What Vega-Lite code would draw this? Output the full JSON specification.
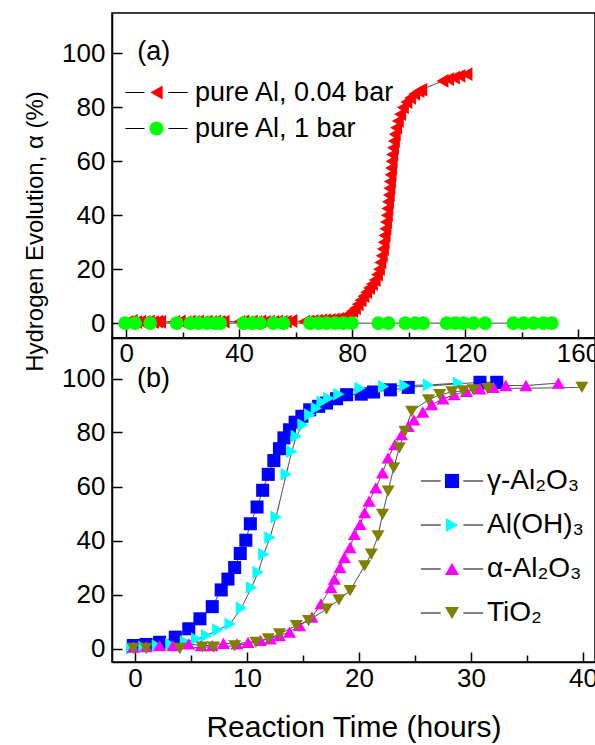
{
  "$schema": "https://vega.github.io/schema/vega-lite/v6.json",
  "padding": {"left": 22, "top": 12, "right": 0, "bottom": 0},
  "config": {
    "view": {"stroke": "black", "strokeWidth": 1.5},
    "font": "Liberation Sans",
    "axis": {"grid": false, "domainColor": "black", "domainWidth": 1.5, "tickColor": "black", "tickWidth": 1.5, "labelColor": "black", "labelFont": "Liberation Sans", "labelFontSize": 26, "titleColor": "black", "titleFont": "Liberation Sans", "titleFontWeight": "normal", "labelFlush": false, "labelOverlap": false},
    "legend": {"labelColor": "black", "labelFont": "Liberation Sans", "labelLimit": 0}
  },
  "resolve": {
    "scale": {"color": "independent", "shape": "independent", "strokeDash": "independent"},
    "legend": {"color": "independent", "shape": "independent", "strokeDash": "independent"}
  },
  "datasets": {
    "top": [
      {"series": "pure Al, 0.04 bar", "t": 0.5, "h": 0.5}, {"series": "pure Al, 0.04 bar", "t": 2, "h": 0.8}, {"series": "pure Al, 0.04 bar", "t": 3.5, "h": 0.4}, {"series": "pure Al, 0.04 bar", "t": 5, "h": 0.6}, {"series": "pure Al, 0.04 bar", "t": 6.5, "h": 0.5}, {"series": "pure Al, 0.04 bar", "t": 8, "h": 0.7}, {"series": "pure Al, 0.04 bar", "t": 9.5, "h": 0.4}, {"series": "pure Al, 0.04 bar", "t": 11, "h": 0.6}, {"series": "pure Al, 0.04 bar", "t": 12, "h": 0.5},
      {"series": "pure Al, 0.04 bar", "t": 17, "h": 0.5}, {"series": "pure Al, 0.04 bar", "t": 19, "h": 0.7}, {"series": "pure Al, 0.04 bar", "t": 21, "h": 0.4}, {"series": "pure Al, 0.04 bar", "t": 22.5, "h": 0.6}, {"series": "pure Al, 0.04 bar", "t": 24, "h": 0.5}, {"series": "pure Al, 0.04 bar", "t": 25.5, "h": 0.7}, {"series": "pure Al, 0.04 bar", "t": 27, "h": 0.4}, {"series": "pure Al, 0.04 bar", "t": 28.5, "h": 0.6}, {"series": "pure Al, 0.04 bar", "t": 30, "h": 0.5}, {"series": "pure Al, 0.04 bar", "t": 31.5, "h": 0.7}, {"series": "pure Al, 0.04 bar", "t": 33, "h": 0.5}, {"series": "pure Al, 0.04 bar", "t": 34.5, "h": 0.6},
      {"series": "pure Al, 0.04 bar", "t": 40, "h": 0.5}, {"series": "pure Al, 0.04 bar", "t": 41.5, "h": 0.7}, {"series": "pure Al, 0.04 bar", "t": 43, "h": 0.4}, {"series": "pure Al, 0.04 bar", "t": 44.5, "h": 0.6}, {"series": "pure Al, 0.04 bar", "t": 46, "h": 0.5}, {"series": "pure Al, 0.04 bar", "t": 47.5, "h": 0.7}, {"series": "pure Al, 0.04 bar", "t": 49, "h": 0.5}, {"series": "pure Al, 0.04 bar", "t": 50.5, "h": 0.6}, {"series": "pure Al, 0.04 bar", "t": 52, "h": 0.5}, {"series": "pure Al, 0.04 bar", "t": 53.5, "h": 0.7}, {"series": "pure Al, 0.04 bar", "t": 55, "h": 0.5}, {"series": "pure Al, 0.04 bar", "t": 56.5, "h": 0.6}, {"series": "pure Al, 0.04 bar", "t": 58.5, "h": 0.8},
      {"series": "pure Al, 0.04 bar", "t": 63, "h": 0.6}, {"series": "pure Al, 0.04 bar", "t": 64.5, "h": 0.7}, {"series": "pure Al, 0.04 bar", "t": 66, "h": 0.8}, {"series": "pure Al, 0.04 bar", "t": 67.5, "h": 0.9}, {"series": "pure Al, 0.04 bar", "t": 69, "h": 1}, {"series": "pure Al, 0.04 bar", "t": 70.5, "h": 1.1}, {"series": "pure Al, 0.04 bar", "t": 72, "h": 1.2}, {"series": "pure Al, 0.04 bar", "t": 73.5, "h": 1.4}, {"series": "pure Al, 0.04 bar", "t": 75, "h": 1.6}, {"series": "pure Al, 0.04 bar", "t": 76.5, "h": 1.9}, {"series": "pure Al, 0.04 bar", "t": 78, "h": 2.4},
      {"series": "pure Al, 0.04 bar", "t": 79, "h": 3.5}, {"series": "pure Al, 0.04 bar", "t": 80, "h": 4.5}, {"series": "pure Al, 0.04 bar", "t": 81, "h": 5.5}, {"series": "pure Al, 0.04 bar", "t": 82, "h": 7}, {"series": "pure Al, 0.04 bar", "t": 83, "h": 8.5}, {"series": "pure Al, 0.04 bar", "t": 84, "h": 10}, {"series": "pure Al, 0.04 bar", "t": 85, "h": 11.5}, {"series": "pure Al, 0.04 bar", "t": 86, "h": 13}, {"series": "pure Al, 0.04 bar", "t": 87, "h": 14.5}, {"series": "pure Al, 0.04 bar", "t": 88, "h": 16}, {"series": "pure Al, 0.04 bar", "t": 88.8, "h": 18}, {"series": "pure Al, 0.04 bar", "t": 89.5, "h": 20}, {"series": "pure Al, 0.04 bar", "t": 90, "h": 22.5}, {"series": "pure Al, 0.04 bar", "t": 90.5, "h": 25}, {"series": "pure Al, 0.04 bar", "t": 90.9, "h": 27.5}, {"series": "pure Al, 0.04 bar", "t": 91.2, "h": 30}, {"series": "pure Al, 0.04 bar", "t": 91.5, "h": 32.5}, {"series": "pure Al, 0.04 bar", "t": 91.8, "h": 35}, {"series": "pure Al, 0.04 bar", "t": 92, "h": 37.5}, {"series": "pure Al, 0.04 bar", "t": 92.3, "h": 40}, {"series": "pure Al, 0.04 bar", "t": 92.5, "h": 42.5}, {"series": "pure Al, 0.04 bar", "t": 92.7, "h": 45}, {"series": "pure Al, 0.04 bar", "t": 93, "h": 47.5}, {"series": "pure Al, 0.04 bar", "t": 93.2, "h": 50}, {"series": "pure Al, 0.04 bar", "t": 93.4, "h": 52.5}, {"series": "pure Al, 0.04 bar", "t": 93.6, "h": 55}, {"series": "pure Al, 0.04 bar", "t": 93.8, "h": 57.5}, {"series": "pure Al, 0.04 bar", "t": 94, "h": 60}, {"series": "pure Al, 0.04 bar", "t": 94.2, "h": 62.5}, {"series": "pure Al, 0.04 bar", "t": 94.5, "h": 65}, {"series": "pure Al, 0.04 bar", "t": 94.8, "h": 67.5}, {"series": "pure Al, 0.04 bar", "t": 95.1, "h": 70}, {"series": "pure Al, 0.04 bar", "t": 95.6, "h": 72.5}, {"series": "pure Al, 0.04 bar", "t": 96.2, "h": 75}, {"series": "pure Al, 0.04 bar", "t": 97, "h": 77.5}, {"series": "pure Al, 0.04 bar", "t": 98, "h": 80}, {"series": "pure Al, 0.04 bar", "t": 99.2, "h": 82}, {"series": "pure Al, 0.04 bar", "t": 100.5, "h": 83.5}, {"series": "pure Al, 0.04 bar", "t": 102, "h": 85}, {"series": "pure Al, 0.04 bar", "t": 103.5, "h": 86}, {"series": "pure Al, 0.04 bar", "t": 104.5, "h": 86.5},
      {"series": "pure Al, 0.04 bar", "t": 112, "h": 89.8}, {"series": "pure Al, 0.04 bar", "t": 114, "h": 90.5}, {"series": "pure Al, 0.04 bar", "t": 116, "h": 91}, {"series": "pure Al, 0.04 bar", "t": 118, "h": 91.7}, {"series": "pure Al, 0.04 bar", "t": 120.5, "h": 92.3},
      {"series": "pure Al, 1 bar", "t": -0.3, "h": 0}, {"series": "pure Al, 1 bar", "t": 3.2, "h": 0}, {"series": "pure Al, 1 bar", "t": 8.5, "h": 0}, {"series": "pure Al, 1 bar", "t": 17.9, "h": 0}, {"series": "pure Al, 1 bar", "t": 22.7, "h": 0}, {"series": "pure Al, 1 bar", "t": 25.6, "h": 0}, {"series": "pure Al, 1 bar", "t": 28.6, "h": 0}, {"series": "pure Al, 1 bar", "t": 31.5, "h": 0}, {"series": "pure Al, 1 bar", "t": 33.3, "h": 0}, {"series": "pure Al, 1 bar", "t": 41.5, "h": 0}, {"series": "pure Al, 1 bar", "t": 44.5, "h": 0}, {"series": "pure Al, 1 bar", "t": 47.4, "h": 0}, {"series": "pure Al, 1 bar", "t": 52.1, "h": 0}, {"series": "pure Al, 1 bar", "t": 55.7, "h": 0}, {"series": "pure Al, 1 bar", "t": 65.1, "h": 0}, {"series": "pure Al, 1 bar", "t": 68.1, "h": 0}, {"series": "pure Al, 1 bar", "t": 71, "h": 0}, {"series": "pure Al, 1 bar", "t": 74, "h": 0}, {"series": "pure Al, 1 bar", "t": 76.9, "h": 0}, {"series": "pure Al, 1 bar", "t": 79.9, "h": 0}, {"series": "pure Al, 1 bar", "t": 89.3, "h": 0}, {"series": "pure Al, 1 bar", "t": 92.9, "h": 0}, {"series": "pure Al, 1 bar", "t": 98.8, "h": 0}, {"series": "pure Al, 1 bar", "t": 102.3, "h": 0}, {"series": "pure Al, 1 bar", "t": 105.2, "h": 0}, {"series": "pure Al, 1 bar", "t": 113.5, "h": 0}, {"series": "pure Al, 1 bar", "t": 116.5, "h": 0}, {"series": "pure Al, 1 bar", "t": 119.4, "h": 0}, {"series": "pure Al, 1 bar", "t": 122.9, "h": 0}, {"series": "pure Al, 1 bar", "t": 127.1, "h": 0}, {"series": "pure Al, 1 bar", "t": 137.1, "h": 0}, {"series": "pure Al, 1 bar", "t": 140.7, "h": 0}, {"series": "pure Al, 1 bar", "t": 144.2, "h": 0}, {"series": "pure Al, 1 bar", "t": 147.7, "h": 0}, {"series": "pure Al, 1 bar", "t": 150.7, "h": 0}
    ],
    "bottom": [
      {"series": "γ-Al₂O₃", "t": -0.15, "h": 1.1}, {"series": "γ-Al₂O₃", "t": 1.0, "h": 1.5}, {"series": "γ-Al₂O₃", "t": 2.2, "h": 2.3}, {"series": "γ-Al₂O₃", "t": 3.6, "h": 4.2}, {"series": "γ-Al₂O₃", "t": 4.8, "h": 7.3}, {"series": "γ-Al₂O₃", "t": 5.8, "h": 11}, {"series": "γ-Al₂O₃", "t": 6.9, "h": 15.5}, {"series": "γ-Al₂O₃", "t": 7.7, "h": 21.7}, {"series": "γ-Al₂O₃", "t": 8.3, "h": 25.7}, {"series": "γ-Al₂O₃", "t": 8.9, "h": 30}, {"series": "γ-Al₂O₃", "t": 9.4, "h": 35.2}, {"series": "γ-Al₂O₃", "t": 9.9, "h": 40.1}, {"series": "γ-Al₂O₃", "t": 10.3, "h": 46.2}, {"series": "γ-Al₂O₃", "t": 10.9, "h": 52.4}, {"series": "γ-Al₂O₃", "t": 11.4, "h": 58.6}, {"series": "γ-Al₂O₃", "t": 11.9, "h": 64.5}, {"series": "γ-Al₂O₃", "t": 12.4, "h": 69.6}, {"series": "γ-Al₂O₃", "t": 12.9, "h": 74}, {"series": "γ-Al₂O₃", "t": 13.3, "h": 78}, {"series": "γ-Al₂O₃", "t": 13.8, "h": 81}, {"series": "γ-Al₂O₃", "t": 14.3, "h": 83.8}, {"series": "γ-Al₂O₃", "t": 14.9, "h": 86}, {"series": "γ-Al₂O₃", "t": 15.6, "h": 88.4}, {"series": "γ-Al₂O₃", "t": 16.4, "h": 89.7}, {"series": "γ-Al₂O₃", "t": 17.1, "h": 90.9}, {"series": "γ-Al₂O₃", "t": 18.0, "h": 92.5}, {"series": "γ-Al₂O₃", "t": 18.9, "h": 94}, {"series": "γ-Al₂O₃", "t": 20.2, "h": 94.2}, {"series": "γ-Al₂O₃", "t": 21.3, "h": 95}, {"series": "γ-Al₂O₃", "t": 22.8, "h": 95.8}, {"series": "γ-Al₂O₃", "t": 24.4, "h": 96.7}, {"series": "γ-Al₂O₃", "t": 30.8, "h": 98.6}, {"series": "γ-Al₂O₃", "t": 32.3, "h": 98.6},
      {"series": "Al(OH)₃", "t": -0.3, "h": 0}, {"series": "Al(OH)₃", "t": 0.8, "h": 0.5}, {"series": "Al(OH)₃", "t": 2, "h": 1}, {"series": "Al(OH)₃", "t": 3.2, "h": 1.5}, {"series": "Al(OH)₃", "t": 4.5, "h": 2.5}, {"series": "Al(OH)₃", "t": 5.5, "h": 3.6}, {"series": "Al(OH)₃", "t": 6.4, "h": 4.8}, {"series": "Al(OH)₃", "t": 7.4, "h": 6.9}, {"series": "Al(OH)₃", "t": 8.5, "h": 9.1}, {"series": "Al(OH)₃", "t": 9.5, "h": 15}, {"series": "Al(OH)₃", "t": 10.4, "h": 22.6}, {"series": "Al(OH)₃", "t": 11.0, "h": 28.2}, {"series": "Al(OH)₃", "t": 11.5, "h": 34.9}, {"series": "Al(OH)₃", "t": 12.05, "h": 41.1}, {"series": "Al(OH)₃", "t": 12.6, "h": 48.7}, {"series": "Al(OH)₃", "t": 13.5, "h": 64.5}, {"series": "Al(OH)₃", "t": 14.0, "h": 73}, {"series": "Al(OH)₃", "t": 14.4, "h": 78.6}, {"series": "Al(OH)₃", "t": 15.0, "h": 82.9}, {"series": "Al(OH)₃", "t": 15.6, "h": 86.6}, {"series": "Al(OH)₃", "t": 16.2, "h": 89}, {"series": "Al(OH)₃", "t": 16.7, "h": 91.3}, {"series": "Al(OH)₃", "t": 17.3, "h": 92.7}, {"series": "Al(OH)₃", "t": 18.2, "h": 94.2}, {"series": "Al(OH)₃", "t": 20.1, "h": 96.4}, {"series": "Al(OH)₃", "t": 22.2, "h": 97}, {"series": "Al(OH)₃", "t": 24.1, "h": 97.4}, {"series": "Al(OH)₃", "t": 26.2, "h": 97.6}, {"series": "Al(OH)₃", "t": 28.9, "h": 98.3},
      {"series": "α-Al₂O₃", "t": -0.15, "h": 0.5}, {"series": "α-Al₂O₃", "t": 1, "h": 0.7}, {"series": "α-Al₂O₃", "t": 2.2, "h": 1.1}, {"series": "α-Al₂O₃", "t": 3.4, "h": 1.1}, {"series": "α-Al₂O₃", "t": 4.8, "h": 1.7}, {"series": "α-Al₂O₃", "t": 5.9, "h": 1.1}, {"series": "α-Al₂O₃", "t": 6.9, "h": 1.1}, {"series": "α-Al₂O₃", "t": 7.9, "h": 1.9}, {"series": "α-Al₂O₃", "t": 9.1, "h": 1.7}, {"series": "α-Al₂O₃", "t": 10.1, "h": 2.3}, {"series": "α-Al₂O₃", "t": 11.2, "h": 3}, {"series": "α-Al₂O₃", "t": 12.1, "h": 3.6}, {"series": "α-Al₂O₃", "t": 12.9, "h": 4.8}, {"series": "α-Al₂O₃", "t": 13.8, "h": 6.1}, {"series": "α-Al₂O₃", "t": 14.7, "h": 8.5}, {"series": "α-Al₂O₃", "t": 15.8, "h": 11.6}, {"series": "α-Al₂O₃", "t": 16.6, "h": 16.5}, {"series": "α-Al₂O₃", "t": 17.5, "h": 22.6}, {"series": "α-Al₂O₃", "t": 17.8, "h": 25.7}, {"series": "α-Al₂O₃", "t": 18.3, "h": 30}, {"series": "α-Al₂O₃", "t": 18.7, "h": 33.7}, {"series": "α-Al₂O₃", "t": 19.2, "h": 37.4}, {"series": "α-Al₂O₃", "t": 19.6, "h": 42.3}, {"series": "α-Al₂O₃", "t": 20.1, "h": 46}, {"series": "α-Al₂O₃", "t": 20.5, "h": 50.3}, {"series": "α-Al₂O₃", "t": 20.9, "h": 54.6}, {"series": "α-Al₂O₃", "t": 21.5, "h": 59.5}, {"series": "α-Al₂O₃", "t": 22.1, "h": 65.1}, {"series": "α-Al₂O₃", "t": 22.6, "h": 70.6}, {"series": "α-Al₂O₃", "t": 23.2, "h": 75.5}, {"series": "α-Al₂O₃", "t": 23.8, "h": 79.2}, {"series": "α-Al₂O₃", "t": 24.4, "h": 82.3}, {"series": "α-Al₂O₃", "t": 24.9, "h": 84.7}, {"series": "α-Al₂O₃", "t": 25.7, "h": 87.6}, {"series": "α-Al₂O₃", "t": 26.5, "h": 90.3}, {"series": "α-Al₂O₃", "t": 27.5, "h": 92.5}, {"series": "α-Al₂O₃", "t": 28.5, "h": 94}, {"series": "α-Al₂O₃", "t": 29.6, "h": 95.2}, {"series": "α-Al₂O₃", "t": 30.8, "h": 96.2}, {"series": "α-Al₂O₃", "t": 32, "h": 96.7}, {"series": "α-Al₂O₃", "t": 33.1, "h": 97.4}, {"series": "α-Al₂O₃", "t": 34.9, "h": 97.4}, {"series": "α-Al₂O₃", "t": 37.8, "h": 98.3},
      {"series": "TiO₂", "t": -0.15, "h": 0}, {"series": "TiO₂", "t": 1, "h": 0}, {"series": "TiO₂", "t": 4, "h": 0}, {"series": "TiO₂", "t": 6, "h": 0.5}, {"series": "TiO₂", "t": 7, "h": 0.5}, {"series": "TiO₂", "t": 8.9, "h": 1}, {"series": "TiO₂", "t": 10.8, "h": 2.3}, {"series": "TiO₂", "t": 11.9, "h": 3.6}, {"series": "TiO₂", "t": 12.9, "h": 5.4}, {"series": "TiO₂", "t": 14.4, "h": 8.5}, {"series": "TiO₂", "t": 15.5, "h": 10.3}, {"series": "TiO₂", "t": 17.1, "h": 14.6}, {"series": "TiO₂", "t": 18.2, "h": 18}, {"series": "TiO₂", "t": 19.2, "h": 21.4}, {"series": "TiO₂", "t": 20.5, "h": 30.6}, {"series": "TiO₂", "t": 21.1, "h": 34.9}, {"series": "TiO₂", "t": 21.7, "h": 41.7}, {"series": "TiO₂", "t": 22.1, "h": 49.7}, {"series": "TiO₂", "t": 22.6, "h": 58.3}, {"series": "TiO₂", "t": 23.1, "h": 66.9}, {"series": "TiO₂", "t": 23.6, "h": 74.3}, {"series": "TiO₂", "t": 24.1, "h": 80.4}, {"series": "TiO₂", "t": 24.7, "h": 87.8}, {"series": "TiO₂", "t": 26.2, "h": 92.1}, {"series": "TiO₂", "t": 27.2, "h": 94}, {"series": "TiO₂", "t": 28.3, "h": 95}, {"series": "TiO₂", "t": 29.3, "h": 95.4}, {"series": "TiO₂", "t": 30.2, "h": 95.8}, {"series": "TiO₂", "t": 31.5, "h": 96.2}, {"series": "TiO₂", "t": 39.9, "h": 96.7}
    ]
  },
  "spacing": 0,
  "bounds": "flush",
  "vconcat": [
    {
      "width": 483,
      "height": 325,
      "data": {"name": "top"},
      "resolve": {"legend": {"strokeDash": "independent"}},
      "layer": [
        {
          "mark": {"type": "line", "color": "#333333", "strokeWidth": 1},
          "encoding": {
            "x": {"field": "t", "type": "quantitative", "scale": {"domain": [-5, 166], "nice": false, "zero": false},
              "axis": {"title": null, "values": [0, 20, 40, 60, 80, 100, 120, 140, 160], "labelExpr": "datum.value % 40 === 0 ? datum.label : ''", "tickSize": {"condition": {"test": "datum.value % 40 === 0", "value": -9}, "value": -6}, "labelPadding": 11}},
            "y": {"field": "h", "type": "quantitative", "scale": {"domain": [-5.5, 115], "nice": false, "zero": false},
              "axis": {"title": "Hydrogen Evolution, α (%)", "titleFontSize": 24, "titleY": 218, "titlePadding": 14, "values": [0, 10, 20, 30, 40, 50, 60, 70, 80, 90, 100, 110], "labelExpr": "datum.value % 20 === 0 ? datum.label : ''", "tickSize": {"condition": {"test": "datum.value % 20 === 0", "value": -10}, "value": -6}, "labelPadding": 17}},
            "strokeDash": {"field": "series", "type": "nominal", "scale": {"domain": ["pure Al, 0.04 bar", "pure Al, 1 bar"], "range": [[1, 0], [1, 0]]},
              "legend": {"orient": "none", "legendX": 31, "legendY": 66, "title": null, "symbolType": "M-4.4,0H-1.7M1.7,0H4.4", "symbolSize": 200, "symbolStrokeColor": "black", "symbolStrokeWidth": 1.2, "labelFontSize": 27, "labelOffset": 25, "labelOpacity": 0, "rowPadding": 8, "padding": 0}}
          }
        },
        {
          "mark": {"type": "point", "filled": true, "opacity": 1, "size": 190, "strokeWidth": 0},
          "encoding": {
            "x": {"field": "t", "type": "quantitative"},
            "y": {"field": "h", "type": "quantitative"},
            "color": {"field": "series", "type": "nominal", "scale": {"domain": ["pure Al, 0.04 bar", "pure Al, 1 bar"], "range": ["#ff0000", "#00ff00"]},
              "legend": {"orient": "none", "legendX": 31, "legendY": 66, "title": null, "symbolSize": 200, "symbolStrokeWidth": 0, "labelFontSize": 27, "labelOffset": 25, "rowPadding": 8, "padding": 0}},
            "shape": {"field": "series", "type": "nominal", "scale": {"domain": ["pure Al, 0.04 bar", "pure Al, 1 bar"], "range": ["triangle-left", "circle"]}}
          }
        },
        {
          "data": {"values": [{"label": "(a)"}]},
          "mark": {"type": "text", "align": "left", "baseline": "middle", "fontSize": 27, "font": "Liberation Sans", "color": "black"},
          "encoding": {"x": {"datum": 3.9}, "y": {"datum": 100.7}, "text": {"field": "label"}}
        }
      ]
    },
    {
      "width": 483,
      "height": 324,
      "data": {"name": "bottom"},
      "resolve": {"legend": {"strokeDash": "independent"}},
      "layer": [
        {
          "mark": {"type": "line", "color": "#333333", "strokeWidth": 1},
          "encoding": {
            "x": {"field": "t", "type": "quantitative", "scale": {"domain": [-2.05, 41.07], "nice": false, "zero": false},
              "axis": {"title": "Reaction Time (hours)", "titleFontSize": 30, "titlePadding": 18, "values": [0, 5, 10, 15, 20, 25, 30, 35, 40], "labelExpr": "datum.value % 10 === 0 ? datum.label : ''", "tickSize": {"condition": {"test": "datum.value % 10 === 0", "value": -10}, "value": -7}, "labelPadding": 13}},
            "y": {"field": "h", "type": "quantitative", "scale": {"domain": [-5, 115], "nice": false, "zero": false},
              "axis": {"title": null, "values": [0, 10, 20, 30, 40, 50, 60, 70, 80, 90, 100, 110], "labelExpr": "datum.value % 20 === 0 ? datum.label : ''", "tickSize": {"condition": {"test": "datum.value % 20 === 0", "value": -10}, "value": -6}, "labelPadding": 17}},
            "strokeDash": {"field": "series", "type": "nominal", "scale": {"domain": ["γ-Al₂O₃", "Al(OH)₃", "α-Al₂O₃", "TiO₂"], "range": [[1, 0], [1, 0], [1, 0], [1, 0]]},
              "legend": {"orient": "none", "legendX": 326, "legendY": 129, "title": null, "symbolType": "M-4.4,0H-1.6M1.6,0H4.4", "symbolSize": 200, "symbolStrokeColor": "black", "symbolStrokeWidth": 1.2, "labelFontSize": 28, "labelOffset": 21, "labelOpacity": 0, "rowPadding": 16, "padding": 0}}
          }
        },
        {
          "mark": {"type": "point", "filled": true, "opacity": 1, "size": 170, "strokeWidth": 0},
          "encoding": {
            "x": {"field": "t", "type": "quantitative"},
            "y": {"field": "h", "type": "quantitative"},
            "color": {"field": "series", "type": "nominal", "scale": {"domain": ["γ-Al₂O₃", "Al(OH)₃", "α-Al₂O₃", "TiO₂"], "range": ["#0000ff", "#00ffff", "#ff00ff", "#808000"]},
              "legend": {"orient": "none", "legendX": 326, "legendY": 129, "title": null, "symbolSize": 200, "symbolStrokeWidth": 0, "labelFontSize": 28, "labelOffset": 21, "rowPadding": 16, "padding": 0}},
            "shape": {"field": "series", "type": "nominal", "scale": {"domain": ["γ-Al₂O₃", "Al(OH)₃", "α-Al₂O₃", "TiO₂"], "range": ["square", "triangle-right", "triangle-up", "triangle-down"]}}
          }
        },
        {
          "data": {"values": [{"label": "(b)"}]},
          "mark": {"type": "text", "align": "left", "baseline": "middle", "fontSize": 27, "font": "Liberation Sans", "color": "black"},
          "encoding": {"x": {"datum": 0.18}, "y": {"datum": 100}, "text": {"field": "label"}}
        }
      ]
    }
  ]
}
